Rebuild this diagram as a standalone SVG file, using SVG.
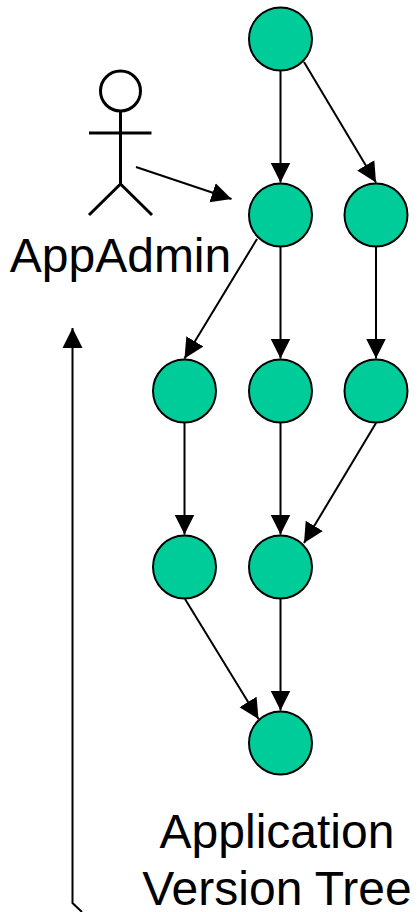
<svg xmlns="http://www.w3.org/2000/svg" width="418" height="912" viewBox="0 0 418 912">
<style>
.n{fill:#00cc99;stroke:#000;stroke-width:2}
.c{fill:none;stroke:#000;stroke-width:2;marker-end:url(#a)}
.s{fill:none;stroke:#000;stroke-width:3}
text{font-family:"Liberation Sans",Arial,sans-serif;font-size:48px;fill:#000}
</style>
<defs><marker id="a" markerUnits="userSpaceOnUse" markerWidth="22" markerHeight="22" refX="20" refY="10.5" orient="auto"><path d="M0 .5L20 10.5L0 20.500Z" fill="#000"/></marker></defs>
<rect width="418" height="912" fill="#fff"/>
<g id="connectors">
<path class="c" d="M280.500 71V182.500"/>
<path class="c" d="M304 62L376 182.500"/>
<path class="c" d="M136 167L231.500 199"/>
<path class="c" d="M257 239L184.500 358.500"/>
<path class="c" d="M280.500 247V358.500"/>
<path class="c" d="M376 247V358.500"/>
<path class="c" d="M184.500 423V534.500"/>
<path class="c" d="M280.500 423V534.500"/>
<path class="c" d="M376 423L304 543"/>
<path class="c" d="M185 599L258.500 719"/>
<path class="c" d="M280.500 599V710.500"/>
<path class="c" d="M82 912L72.500 903V328"/>
</g>
<g id="node1"><circle class="n" cx="280.500" cy="39" r="31.500"/></g>
<g id="node2"><circle class="n" cx="280.500" cy="215" r="31.500"/></g>
<g id="node3"><circle class="n" cx="376" cy="215" r="31.500"/></g>
<g id="node4"><circle class="n" cx="184.500" cy="391" r="31.500"/></g>
<g id="node5"><circle class="n" cx="280.500" cy="391" r="31.500"/></g>
<g id="node6"><circle class="n" cx="376" cy="391" r="31.500"/></g>
<g id="node7"><circle class="n" cx="184.500" cy="567" r="31.500"/></g>
<g id="node8"><circle class="n" cx="280.500" cy="567" r="31.500"/></g>
<g id="node9"><circle class="n" cx="280.500" cy="743" r="31.500"/></g>
<g id="actor">
<circle class="s" cx="120.500" cy="91" r="20"/>
<path class="s" d="M120.500 112V184M89 133H151.500M120.500 184L89 215M120.500 184L152 215"/>
<text x="120.500" y="272" text-anchor="middle">AppAdmin</text>
</g>
<g id="title">
<text x="277" y="848" text-anchor="middle">Application</text>
<text x="277" y="905" text-anchor="middle">Version Tree</text>
</g>
</svg>
